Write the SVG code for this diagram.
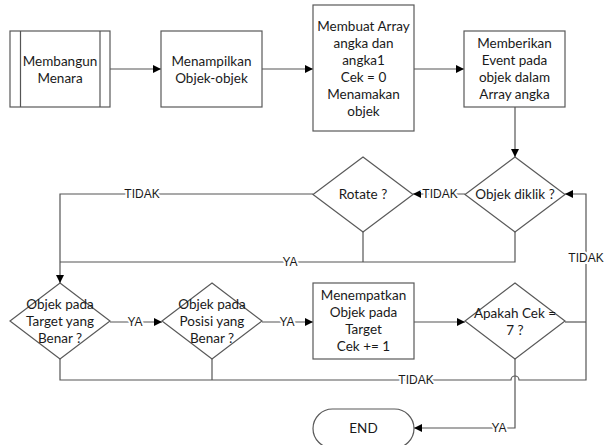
<svg xmlns="http://www.w3.org/2000/svg" width="604" height="445" viewBox="0 0 604 445">
<defs>
<marker id="arr" viewBox="0 0 10 10" refX="10" refY="5" markerWidth="8" markerHeight="8" markerUnits="userSpaceOnUse" orient="auto">
<path d="M0,0 L10,5 L0,10 Z" fill="#000"/>
</marker>
</defs>
<style>
.box{fill:#fff;stroke:#595959;stroke-width:1.2}
.t{font-family:Lato,"Liberation Sans",sans-serif;font-size:13.5px;fill:#1a1a1a;text-anchor:middle}
.c{fill:none;stroke:#555;stroke-width:1.2}
.l{font-family:"Liberation Sans",Arial,sans-serif;font-size:12px;fill:#1a1a1a;text-anchor:middle;stroke:#fff;stroke-width:4;paint-order:stroke}
</style>
<rect width="604" height="445" fill="#fff"/>
<g id="connectors">
<path class="c" d="M110,69 H161" marker-end="url(#arr)"/>
<path class="c" d="M262,69 H313" marker-end="url(#arr)"/>
<path class="c" d="M414,69 H464" marker-end="url(#arr)"/>
<path class="c" d="M515,107 V157" marker-end="url(#arr)"/>
<path class="c" d="M465,194 H413" marker-end="url(#arr)"/>
<path class="c" d="M313,194 H60 V283" marker-end="url(#arr)"/>
<path class="c" d="M515,232 V262 H60"/>
<path class="c" d="M363,232 V262"/>
<path class="c" d="M110,322 H162" marker-end="url(#arr)"/>
<path class="c" d="M262,322 H313" marker-end="url(#arr)"/>
<path class="c" d="M414,322 H465" marker-end="url(#arr)"/>
<path class="c" d="M565,322 H586"/>
<path class="c" d="M60,359 V380 H511 A4,4 0 0 1 519,380 H586 V194 H565" marker-end="url(#arr)"/>
<path class="c" d="M212,359 V380"/>
<path class="c" d="M515,359 V428 H414" marker-end="url(#arr)"/>
<text class="l" x="142" y="198">TIDAK</text>
<text class="l" x="440" y="198">TIDAK</text>
<text class="l" x="290" y="266">YA</text>
<text class="l" x="586" y="262">TIDAK</text>
<text class="l" x="135" y="326">YA</text>
<text class="l" x="287" y="326">YA</text>
<text class="l" x="416" y="384">TIDAK</text>
<text class="l" x="499" y="432">YA</text>
</g>
<g id="membangun">
<rect class="box" x="10" y="31" width="100" height="76"/>
<path class="c" d="M20.5,31 V107 M100,31 V107" stroke="#333"/>
<text class="t" x="60" y="66">Membangun</text>
<text class="t" x="60" y="83">Menara</text>
</g>
<g id="menampilkan">
<rect class="box" x="161" y="31" width="101" height="76"/>
<text class="t" x="211.5" y="66">Menampilkan</text>
<text class="t" x="211.5" y="83">Objek-objek</text>
</g>
<g id="membuat">
<rect class="box" x="313" y="5" width="101" height="126"/>
<text class="t" x="363.5" y="31">Membuat Array</text>
<text class="t" x="363.5" y="48">angka dan</text>
<text class="t" x="363.5" y="65">angka1</text>
<text class="t" x="363.5" y="82">Cek = 0</text>
<text class="t" x="363.5" y="99">Menamakan</text>
<text class="t" x="363.5" y="116">objek</text>
</g>
<g id="memberikan">
<rect class="box" x="464" y="31" width="101" height="76"/>
<text class="t" x="514.5" y="48">Memberikan</text>
<text class="t" x="514.5" y="65">Event pada</text>
<text class="t" x="514.5" y="82">objek dalam</text>
<text class="t" x="514.5" y="99">Array angka</text>
</g>
<g id="diklik">
<polygon class="box" points="515,157 565,194.5 515,232 465,194.5"/>
<text class="t" x="515" y="199">Objek diklik ?</text>
</g>
<g id="rotate">
<polygon class="box" points="363,157 413,194.5 363,232 313,194.5"/>
<text class="t" x="363" y="199">Rotate ?</text>
</g>
<g id="target">
<polygon class="box" points="60,283 110,321 60,359 10,321"/>
<text class="t" x="60" y="309">Objek pada</text>
<text class="t" x="60" y="326">Target yang</text>
<text class="t" x="60" y="343">Benar ?</text>
</g>
<g id="posisi">
<polygon class="box" points="212,283 262,321 212,359 162,321"/>
<text class="t" x="212" y="309">Objek pada</text>
<text class="t" x="212" y="326">Posisi yang</text>
<text class="t" x="212" y="343">Benar ?</text>
</g>
<g id="menempatkan">
<rect class="box" x="313" y="283" width="101" height="76"/>
<text class="t" x="363.5" y="300">Menempatkan</text>
<text class="t" x="363.5" y="317">Objek pada</text>
<text class="t" x="363.5" y="334">Target</text>
<text class="t" x="363.5" y="351">Cek += 1</text>
</g>
<g id="apakah">
<polygon class="box" points="515,283 565,321 515,359 465,321"/>
<text class="t" x="515" y="318">Apakah Cek =</text>
<text class="t" x="515" y="335">7 ?</text>
</g>
<g id="end">
<rect class="box" x="313" y="409" width="101" height="39" rx="19.5" ry="19.5"/>
<text class="t" x="363.5" y="433">END</text>
</g>
</svg>
